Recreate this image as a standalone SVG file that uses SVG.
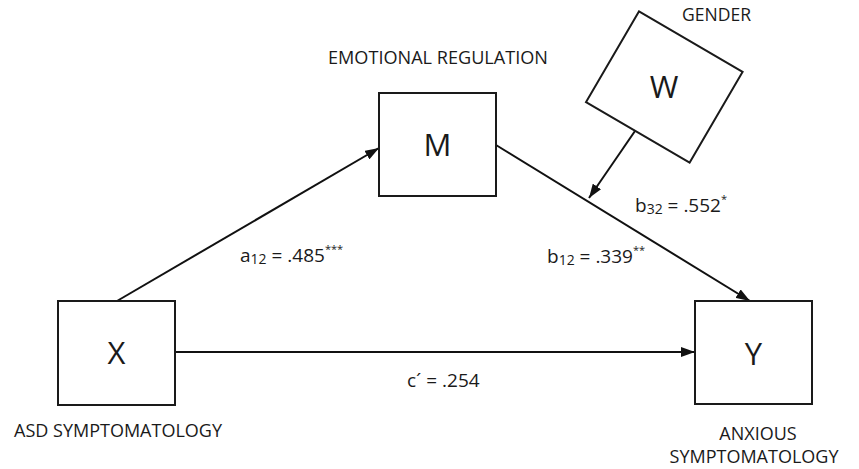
<svg xmlns="http://www.w3.org/2000/svg" width="859" height="469" viewBox="0 0 859 469">
<style>
.box{fill:#fff;stroke:#1a1a1a;stroke-width:2}
.big{font-family:"Open Sans","Liberation Sans",sans-serif;font-size:31px;fill:#1a1a1a;text-anchor:middle}
.lbl{font-family:"Open Sans","Liberation Sans",sans-serif;font-size:18px;fill:#1a1a1a}
.eq{font-family:"Open Sans","Liberation Sans",sans-serif;font-size:19px;fill:#1a1a1a}
.sub{font-size:14px}
.sup{font-size:11px}
.edge{stroke:#111;stroke-width:2;fill:none;marker-end:url(#ah)}
</style>
<defs>
<marker id="ah" viewBox="0 0 14 10" refX="14" refY="5" markerWidth="14" markerHeight="10" markerUnits="userSpaceOnUse" orient="auto">
<path d="M0,0 L14,5 L0,10 Z" fill="#111"/>
</marker>
</defs>
<rect width="859" height="469" fill="#fff"/>
<g id="connectors">
<line class="edge" x1="117" y1="301" x2="379" y2="148"/>
<line class="edge" x1="496" y1="145" x2="750" y2="301"/>
<line class="edge" x1="175" y1="352" x2="695" y2="352"/>
<line class="edge" x1="635" y1="131" x2="589" y2="198"/>
</g>
<g id="node-X">
<rect class="box" x="58" y="301" width="117" height="104"/>
<text class="big" x="116.5" y="364">X</text>
<text class="lbl" x="14" y="437" textLength="208" lengthAdjust="spacingAndGlyphs">ASD SYMPTOMATOLOGY</text>
</g>
<g id="node-M">
<rect class="box" x="379" y="93" width="117" height="103"/>
<text class="big" x="437.5" y="156">M</text>
<text class="lbl" x="328" y="64" textLength="220" lengthAdjust="spacingAndGlyphs">EMOTIONAL REGULATION</text>
</g>
<g id="node-Y">
<rect class="box" x="695" y="301" width="117" height="103"/>
<text class="big" x="753.5" y="365">Y</text>
<text class="lbl" x="758" y="440" text-anchor="middle">ANXIOUS</text>
<text class="lbl" x="754" y="463" text-anchor="middle">SYMPTOMATOLOGY</text>
</g>
<g id="node-W">
<rect class="box" x="-60" y="-52.5" width="120" height="105" transform="translate(664.3,87) rotate(30.3)"/>
<text class="big" x="664" y="98">W</text>
<text class="lbl" x="682" y="21" textLength="69" lengthAdjust="spacingAndGlyphs">GENDER</text>
</g>
<g id="labels">
<text class="eq" x="240" y="262">a<tspan class="sub" dy="2">12</tspan><tspan dy="-2"> = .485</tspan><tspan class="sup" dy="-9">***</tspan></text>
<text class="eq" x="635" y="212">b<tspan class="sub" dy="2">32</tspan><tspan dy="-2"> = .552</tspan><tspan class="sup" dy="-9">*</tspan></text>
<text class="eq" x="547" y="263">b<tspan class="sub" dy="2">12</tspan><tspan dy="-2"> = .339</tspan><tspan class="sup" dy="-9">**</tspan></text>
<text class="eq" x="407" y="387">c´ = .254</text>
</g>
</svg>
